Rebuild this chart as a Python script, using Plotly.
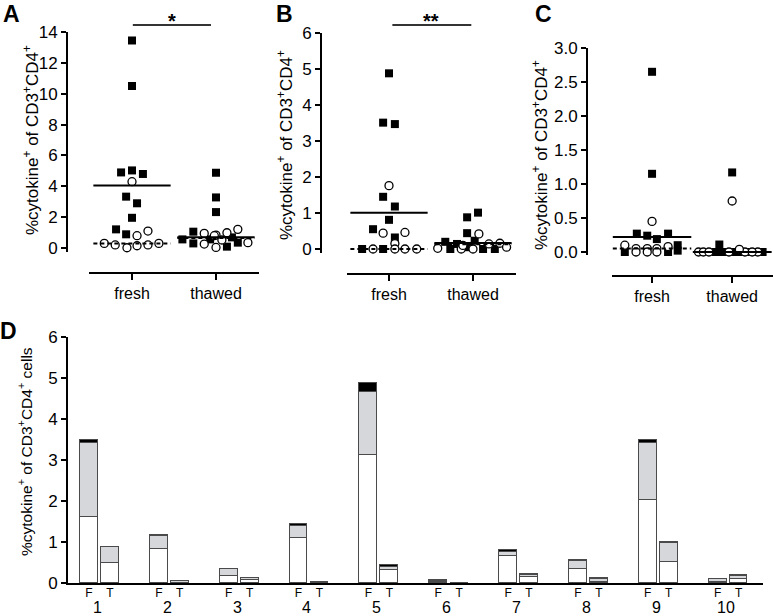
import plotly.graph_objects as go

# ---------------- data: panels A-C (jittered dot plots) ----------------
groups = ["fresh", "thawed"]

# Panel A
A_fresh_sq_y = [13.45, 10.5, 4.9, 5.03, 4.8, 3.33, 2.9, 1.96, 1.21, 0.89]
A_fresh_sq_dx = [0, 0, -0.13, 0, 0.13, -0.07, 0.06, 0, -0.19, -0.07]
A_fresh_ci_y = [4.3, 0.8, 1.1, 0.3, 0.2, 0.02, 0.15, 0.2, 0.3]
A_fresh_ci_dx = [0, 0.06, 0.19, -0.33, -0.2, -0.06, 0.06, 0.19, 0.32]
A_thawed_sq_y = [4.88, 3.28, 2.33, 0.56, 1.06, 0.30, 0.56, 0.09, 0.69, 0.35]
A_thawed_sq_dx = [0, 0, 0, -0.4, -0.27, -0.27, -0.07, 0.13, 0.19, 0.26]
A_thawed_ci_y = [0.95, 0.84, 0.99, 1.21, 0.26, 0.04, 0.52, 0.35, 0.8]
A_thawed_ci_dx = [-0.14, 0, 0.13, 0.26, -0.14, 0, 0.07, 0.38, -0.02]
A_solid = [4.05, 0.70]
A_dashed = [0.30, 0.65]

# Panel B
B_fresh_sq_y = [4.88, 3.51, 3.47, 1.45, 1.18, 0.81, 0.55, 0.32, 0, 0]
B_fresh_sq_dx = [0, -0.07, 0.07, -0.07, 0.07, 0, -0.19, 0.07, -0.32, -0.07]
B_fresh_ci_y = [1.76, 0.44, 0.46, 0.15, 0, 0, 0, 0]
B_fresh_ci_dx = [0, -0.07, 0.19, 0.07, -0.19, 0.07, 0.19, 0.33]
B_thawed_sq_y = [0.88, 1.01, 0.44, 0.2, 0.14, 0.23, 0, 0.05, 0, 0]
B_thawed_sq_dx = [-0.07, 0.06, -0.07, -0.33, -0.19, 0.02, -0.27, -0.07, 0.12, 0.26]
B_thawed_ci_y = [0.42, 0.02, 0, 0.16, 0.05, 0.0, 0.14, 0.1]
B_thawed_ci_dx = [0.07, -0.42, 0, 0.32, 0.4, -0.14, 0.19, -0.12]
B_solid = [1.01, 0.17]
B_dashed = [0.0, 0.13]

# Panel C
C_fresh_sq_y = [2.65, 1.15, 0.27, 0.24, 0.19, 0.27, 0.1, 0.02, 0, 0]
C_fresh_sq_dx = [0, 0, -0.19, -0.06, 0.06, 0.2, 0.32, 0.32, -0.34, 0.2]
C_fresh_ci_y = [0.45, 0.1, 0.05, 0.05, 0.0, 0.05, 0.0, 0.08, 0.0]
C_fresh_ci_dx = [0, -0.34, -0.2, -0.06, -0.06, 0.06, 0.06, 0.2, -0.2]
C_thawed_sq_y = [1.17, 0.11, 0, 0, 0, 0, 0, 0, 0, 0]
C_thawed_sq_dx = [0, -0.16, -0.21, -0.12, -0.04, 0.05, 0.12, 0.21, 0.29, 0.38]
C_thawed_ci_y = [0.75, 0, 0, 0, 0, 0, 0.04, 0.0, 0.0]
C_thawed_ci_dx = [0, -0.42, -0.36, -0.29, 0.16, 0.32, 0.09, -0.04, 0.25]
C_solid = [0.22, 0.0]
C_dashed = [0.05, 0.0]

# ---------------- data: panel D (stacked bars) ----------------
donors = [1, 2, 3, 4, 5, 6, 7, 8, 9, 10]
donor_labels = ["1", "2", "3", "4", "5", "6", "7", "8", "9", "10"]
F_white = [1.61, 0.83, 0.16, 1.10, 3.11, 0.02, 0.67, 0.35, 2.03, 0.03]
F_gray = [1.80, 0.31, 0.17, 0.28, 1.56, 0.04, 0.08, 0.19, 1.38, 0.07]
F_black = [0.09, 0.04, 0.0, 0.07, 0.21, 0.01, 0.05, 0.02, 0.08, 0.0]
T_white = [0.49, 0.01, 0.07, 0.0, 0.31, 0.0, 0.15, 0.03, 0.51, 0.10]
T_gray = [0.39, 0.03, 0.04, 0.01, 0.08, 0.0, 0.04, 0.06, 0.47, 0.07]
T_black = [0.0, 0.01, 0.01, 0.01, 0.04, 0.01, 0.03, 0.02, 0.03, 0.02]

# ---------------- styling ----------------
FONT = "Arial, Liberation Sans, sans-serif"
W, H = 774, 616
MS = 8
HALF = 0.46
YTITLE = "%cytokine<sup>+</sup> of CD3<sup>+</sup>CD4<sup>+</sup>"

fig = go.Figure()


def add_dot_panel(xa, ya, data, solid, dashed, half):
    for gi, (sq_y, sq_dx, ci_y, ci_dx) in enumerate(data):
        c = gi + 1
        fig.add_trace(go.Scatter(
            x=[c + d for d in sq_dx], y=sq_y, mode="markers", xaxis=xa, yaxis=ya,
            cliponaxis=False,
            marker=dict(symbol="square", size=MS, color="black", line=dict(width=0))))
        fig.add_trace(go.Scatter(
            x=[c + d for d in ci_dx], y=ci_y, mode="markers", xaxis=xa, yaxis=ya,
            cliponaxis=False,
            marker=dict(symbol="circle", size=MS, color="white",
                        line=dict(width=1.3, color="black"))))
        fig.add_trace(go.Scatter(
            x=[c - half, c + half], y=[solid[gi], solid[gi]], mode="lines",
            xaxis=xa, yaxis=ya, line=dict(color="black", width=2)))
        fig.add_trace(go.Scatter(
            x=[c - half, c + half], y=[dashed[gi], dashed[gi]], mode="lines",
            xaxis=xa, yaxis=ya, line=dict(color="black", width=2, dash="4px,3px")))


add_dot_panel("x", "y", [(A_fresh_sq_y, A_fresh_sq_dx, A_fresh_ci_y, A_fresh_ci_dx),
                         (A_thawed_sq_y, A_thawed_sq_dx, A_thawed_ci_y, A_thawed_ci_dx)],
              A_solid, A_dashed, HALF)
add_dot_panel("x2", "y2", [(B_fresh_sq_y, B_fresh_sq_dx, B_fresh_ci_y, B_fresh_ci_dx),
                           (B_thawed_sq_y, B_thawed_sq_dx, B_thawed_ci_y, B_thawed_ci_dx)],
              B_solid, B_dashed, HALF)
add_dot_panel("x3", "y3", [(C_fresh_sq_y, C_fresh_sq_dx, C_fresh_ci_y, C_fresh_ci_dx),
                           (C_thawed_sq_y, C_thawed_sq_dx, C_thawed_ci_y, C_thawed_ci_dx)],
              C_solid, C_dashed, 0.49)

# Panel D bars
OFF = 0.15
xF = [d - OFF for d in donors]
xT = [d + OFF for d in donors]
bar_line = dict(color="#4a4a4a", width=1)
for xs, vals, col in [(xF, F_white, "white"), (xF, F_gray, "#d5d7da"), (xF, F_black, "black"),
                      (xT, T_white, "white"), (xT, T_gray, "#d5d7da"), (xT, T_black, "black")]:
    fig.add_trace(go.Bar(x=xs, y=vals, xaxis="x4", yaxis="y4", width=0.255,
                         marker=dict(color=col, line=bar_line)))


def px_x(p):
    return p / W


def px_y(p):
    return (H - p) / H


axis_common = dict(showline=True, linecolor="black", linewidth=2, ticks="outside",
                   tickwidth=2, tickcolor="black", showgrid=False, zeroline=False,
                   automargin=False,
                   tickfont=dict(family=FONT, size=17, color="black"))

xtick_font = dict(family=FONT, size=16, color="black")

layout = dict(
    width=W, height=H, margin=dict(l=0, r=0, t=0, b=0, pad=0, autoexpand=False),
    paper_bgcolor="white", plot_bgcolor="white", showlegend=False,
    barmode="stack", bargap=0,
    # Panel A
    xaxis=dict(axis_common, domain=[px_x(89), px_x(259)], range=[0.488, 2.512],
               anchor="free", position=px_y(273), tickvals=[1, 2], ticktext=groups, ticklen=6,
               tickfont=xtick_font),
    yaxis=dict(axis_common, domain=[px_y(251.9), px_y(32)], range=[-0.25, 14],
               anchor="free", position=px_x(67), tickvals=[0, 2, 4, 6, 8, 10, 12, 14], ticklen=5),
    # Panel B
    xaxis2=dict(axis_common, domain=[px_x(347), px_x(516)], range=[0.5, 2.512],
                anchor="free", position=px_y(274), tickvals=[1, 2], ticktext=groups, ticklen=6,
                tickfont=xtick_font),
    yaxis2=dict(axis_common, domain=[px_y(252.6), px_y(33)], range=[-0.1, 6],
                anchor="free", position=px_x(321), tickvals=[0, 1, 2, 3, 4, 5, 6], ticklen=5),
    # Panel C
    xaxis3=dict(axis_common, domain=[px_x(612), px_x(773)], range=[0.5, 2.51],
                anchor="free", position=px_y(276), tickvals=[1, 2], ticktext=groups, ticklen=6,
                tickfont=xtick_font),
    yaxis3=dict(axis_common, domain=[px_y(255.4), px_y(48)], range=[-0.05, 3.0],
                anchor="free", position=px_x(587), tickvals=[0, 0.5, 1, 1.5, 2, 2.5, 3],
                tickformat=".1f", ticklen=5),
    # Panel D
    xaxis4=dict(axis_common, domain=[px_x(68), px_x(763)], range=[0.55, 10.5],
                anchor="y4", ticks="", tickvals=xF + xT, ticklabelstandoff=-2,
                ticktext=["F"] * len(donors) + ["T"] * len(donors),
                tickfont=dict(family=FONT, size=12, color="black")),
    yaxis4=dict(axis_common, domain=[px_y(583), px_y(337)], range=[0, 6],
                anchor="x4", tickvals=[0, 1, 2, 3, 4, 5, 6], ticklen=5),
)
fig.update_layout(**layout)

# y-axis titles (rotated text)
for txt, xp, yp, fs in [(YTITLE, 31, 140, 17), (YTITLE, 285, 145, 17), (YTITLE, 540, 155, 17),
                        (YTITLE + " cells", 25, 452, 15.5)]:
    fig.add_annotation(xref="paper", yref="paper", x=px_x(xp), y=px_y(yp), text=txt,
                       textangle=-90, showarrow=False, xanchor="center", yanchor="middle",
                       font=dict(family=FONT, size=fs, color="black"))

# significance bars
fig.add_shape(type="line", xref="x", yref="y domain", x0=1.01, x1=1.94, y0=1.032, y1=1.032,
              line=dict(color="#333", width=2))
fig.add_shape(type="line", xref="x2", yref="y2 domain", x0=1.04, x1=1.98, y0=1.036, y1=1.036,
              line=dict(color="#333", width=2))
fig.add_annotation(xref="x", yref="y domain", x=1.48, y=1.05, text="<b>*</b>", showarrow=False,
                   font=dict(family=FONT, size=20, color="black"), yanchor="middle")
fig.add_annotation(xref="x2", yref="y2 domain", x=1.5, y=1.055, text="<b>**</b>", showarrow=False,
                   font=dict(family=FONT, size=20, color="black"), yanchor="middle")

# group numbers under panel D
for d, lab in zip(donors, donor_labels):
    fig.add_annotation(xref="x4", yref="paper", x=d - 0.03, y=px_y(607.5), text=lab, showarrow=False,
                       font=dict(family=FONT, size=16, color="black"), yanchor="middle")

# panel letters
for lab, xp, yp in [("A", 11, 14), ("B", 284, 14), ("C", 543, 14), ("D", 8, 331)]:
    fig.add_annotation(xref="paper", yref="paper", x=px_x(xp), y=px_y(yp), text="<b>%s</b>" % lab,
                       showarrow=False, font=dict(family=FONT, size=23, color="black"),
                       xanchor="center", yanchor="middle")

fig.write_html("out.html", config={"displayModeBar": False},
               post_script="document.body.style.margin='0px';document.body.style.padding='0px';")
